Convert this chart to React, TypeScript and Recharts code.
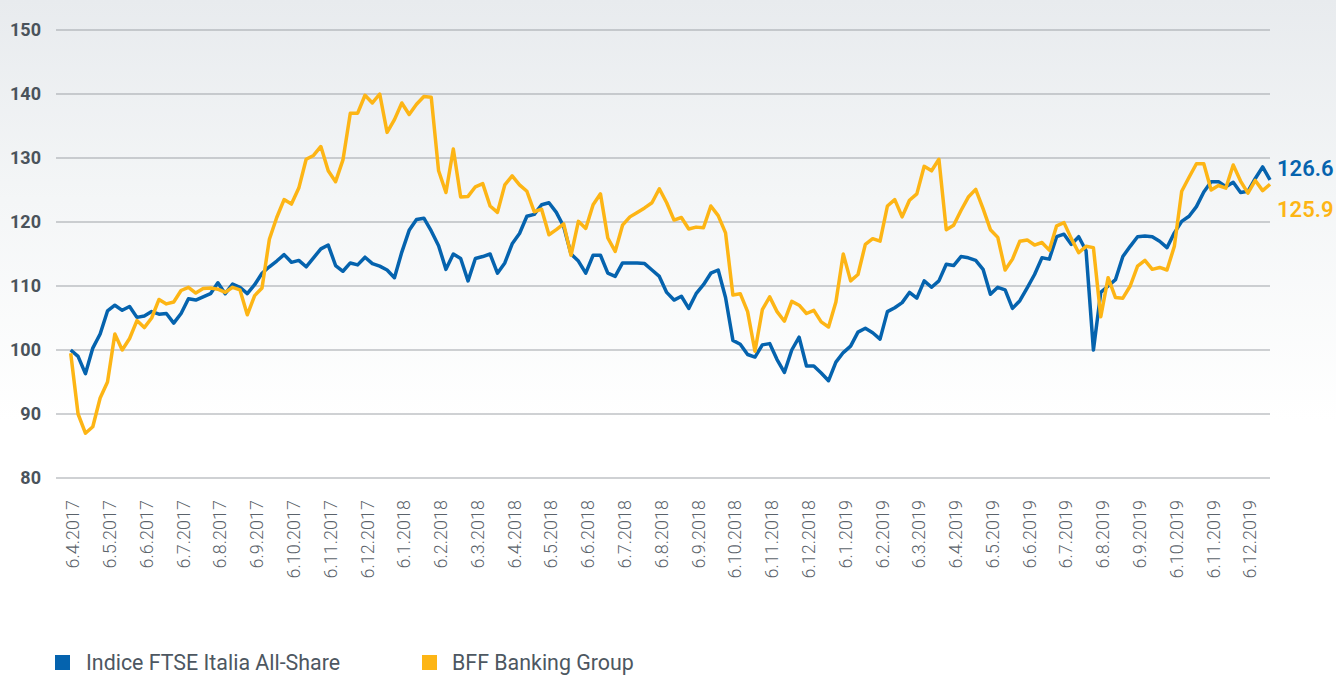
import React from 'react';
import { LineChart, Line, XAxis, YAxis, CartesianGrid } from 'recharts';

const monthLabels = [
  '6.4.2017', '6.5.2017', '6.6.2017', '6.7.2017', '6.8.2017', '6.9.2017', '6.10.2017', '6.11.2017', '6.12.2017',
  '6.1.2018', '6.2.2018', '6.3.2018', '6.4.2018', '6.5.2018', '6.6.2018', '6.7.2018', '6.8.2018', '6.9.2018',
  '6.10.2018', '6.11.2018', '6.12.2018',
  '6.1.2019', '6.2.2019', '6.3.2019', '6.4.2019', '6.5.2019', '6.6.2019', '6.7.2019', '6.8.2019', '6.9.2019',
  '6.10.2019', '6.11.2019', '6.12.2019',
];

const yTicks = [80, 90, 100, 110, 120, 130, 140, 150];

// sampling step, in months from 6.4.2017
const STEP = 0.2;

const ftse = [
  100, 99, 96.3, 100.3, 102.5, 106.1, 107, 106.2, 106.8, 105.1,
  105.3, 106, 105.6, 105.7, 104.2, 105.7, 108, 107.8, 108.3, 108.8,
  110.5, 108.8, 110.3, 109.8, 108.8, 110.2, 112, 113, 113.9, 114.9,
  113.7, 114, 113, 114.4, 115.8, 116.4, 113.2, 112.3, 113.6, 113.3,
  114.5, 113.5, 113.1, 112.5, 111.3, 115.3, 118.7, 120.4, 120.6, 118.6,
  116.3, 112.6, 115, 114.3, 110.8, 114.3, 114.6, 115, 112, 113.6,
  116.6, 118.2, 120.9, 121.2, 122.7, 123, 121.5, 119.3, 115, 113.9,
  112, 114.8, 114.8, 112, 111.5, 113.6, 113.6, 113.6, 113.5, 112.5,
  111.5, 109, 107.8, 108.4, 106.5, 108.8, 110.2, 112, 112.5, 108.2,
  101.5, 100.9, 99.3, 98.9, 100.8, 101, 98.5, 96.5, 100, 102,
  97.5, 97.5, 96.4, 95.2, 98.1, 99.6, 100.6, 102.8, 103.4, 102.7,
  101.7, 106, 106.6, 107.4, 109, 108.1, 110.8, 109.8, 110.8, 113.4,
  113.2, 114.6, 114.4, 114, 112.6, 108.7, 109.8, 109.4, 106.5, 107.7,
  109.7, 111.8, 114.4, 114.2, 117.7, 118.1, 116.5, 117.7, 115.5, 100,
  109, 110, 111, 114.6, 116.2, 117.7, 117.8, 117.7, 117, 116,
  118.3, 120.1, 120.9, 122.4, 124.7, 126.3, 126.3, 125.5, 126.2, 124.6,
  124.8, 126.8, 128.6, 126.6,
];

const bff = [
  99.5, 90, 87, 88, 92.5, 95, 102.5, 100, 101.8, 104.6,
  103.5, 105, 107.9, 107.2, 107.5, 109.3, 109.8, 108.9, 109.6, 109.7,
  109.5, 109, 109.8, 109.4, 105.5, 108.5, 109.7, 117.3, 120.7, 123.5,
  122.8, 125.3, 129.8, 130.4, 131.8, 128, 126.3, 129.7, 137, 137,
  139.8, 138.6, 140, 134, 136, 138.6, 136.8, 138.4, 139.6, 139.5,
  128, 124.6, 131.4, 123.9, 124, 125.5, 126, 122.5, 121.5, 125.8,
  127.2, 125.8, 124.8, 121.6, 122, 118, 118.8, 119.7, 114.8, 120.1,
  119, 122.7, 124.4, 117.5, 115.4, 119.5, 120.8, 121.5, 122.2, 123,
  125.2, 123, 120.3, 120.7, 118.9, 119.2, 119.1, 122.5, 121, 118.3,
  108.6, 108.8, 106, 99.8, 106.3, 108.3, 106, 104.5, 107.6, 107,
  105.7, 106.2, 104.4, 103.6, 107.5, 115, 110.8, 111.8, 116.5, 117.4,
  117, 122.5, 123.5, 120.8, 123.4, 124.4, 128.7, 128, 129.8, 118.8,
  119.5, 121.8, 123.9, 125.1, 122.1, 118.8, 117.6, 112.5, 114.2, 117,
  117.2, 116.4, 116.8, 115.6, 119.4, 119.9, 117.4, 115.2, 116.2, 116,
  105.2, 111.3, 108.2, 108.1, 110, 113.1, 114, 112.6, 112.9, 112.5,
  116.2, 124.8, 127, 129.1, 129.1, 125, 125.7, 125.3, 128.9, 126.4,
  124.5, 126.5, 124.9, 125.9,
];

const seriesNames = ['Indice FTSE Italia All-Share', 'BFF Banking Group'];
const BLUE = '#0563ae';
const YELLOW = '#fdb515';

const data = ftse.map((v, i) => ({ m: Math.round(i * STEP * 10) / 10, ftse: v, bff: bff[i] }));
const monthTicks = monthLabels.map((_, i) => i);
const lastIndex = ftse.length - 1;

const XTick = (props: any) => {
  const { x, y, payload } = props;
  return (
    <text
      x={0}
      y={0}
      transform={`translate(${x + 2},${y}) rotate(-90)`}
      textAnchor="end"
      dy="0.36em"
      fontSize={18}
      fontFamily="Roboto, sans-serif"
      fontWeight={300}
      fill="#5b636b"
    >
      {monthLabels[payload.value]}
    </text>
  );
};

const YTick = (props: any) => {
  const { x, y, payload } = props;
  return (
    <text x={x + 1} y={y} dy="0.36em" textAnchor="end" fontSize={18} fontWeight={700}
      fontFamily="Roboto, sans-serif" fill="#4a535b">
      {payload.value}
    </text>
  );
};

const makeEndDot = (color: string, dy: number) => (props: any) => {
  const { cx, cy, value, index } = props;
  if (index !== lastIndex) return <g key={`d-${index}`} />;
  const v = Array.isArray(value) ? value[1] : value;
  return (
    <text key={`d-${index}`} x={cx + 7} y={cy + dy} fontSize={22} fontWeight={600}
      fontFamily="Roboto, sans-serif" fill={color}>
      {Number(v).toFixed(1)}
    </text>
  );
};

export default function App() {
  return (
    <div
      style={{
        position: 'absolute',
        left: 0,
        top: 0,
        width: 1336,
        height: 675,
        background: 'linear-gradient(to bottom, #e8ebee 0px, #f4f6f7 200px, #ffffff 420px)',
        fontFamily: 'Roboto, sans-serif',
      }}
    >
      <LineChart width={1336} height={675} data={data} margin={{ top: 30, right: 66, left: 0, bottom: 0 }}>
        <CartesianGrid vertical={false} stroke="#9fa3a8" strokeWidth={1} />
        <XAxis
          dataKey="m"
          type="number"
          domain={[-0.4, 32.6]}
          ticks={monthTicks}
          interval={0}
          tick={<XTick />}
          tickLine={false}
          axisLine={false}
          tickSize={0}
          tickMargin={22}
          height={197}
        />
        <YAxis
          domain={[80, 150]}
          ticks={yTicks}
          tick={<YTick />}
          tickLine={false}
          axisLine={false}
          tickSize={0}
          tickMargin={16}
          width={56}
          interval={0}
        />
        <Line dataKey="ftse" stroke={BLUE} strokeWidth={3.5} dot={makeEndDot(BLUE, -4)} activeDot={false}
          isAnimationActive={false} strokeLinejoin="round" />
        <Line dataKey="bff" stroke={YELLOW} strokeWidth={3.5} dot={makeEndDot(YELLOW, 33)} activeDot={false}
          isAnimationActive={false} strokeLinejoin="round" />
      </LineChart>
      <div style={{ position: 'absolute', left: 55, top: 655, display: 'flex', alignItems: 'center' }}>
        <div style={{ width: 15, height: 15, background: BLUE }} />
        <span style={{ marginLeft: 16, fontSize: 21.4, color: '#4d5761', lineHeight: '15px' }}>{seriesNames[0]}</span>
      </div>
      <div style={{ position: 'absolute', left: 422, top: 655, display: 'flex', alignItems: 'center' }}>
        <div style={{ width: 15, height: 15, background: YELLOW }} />
        <span style={{ marginLeft: 15, fontSize: 21.4, color: '#4d5761', lineHeight: '15px' }}>{seriesNames[1]}</span>
      </div>
    </div>
  );
}
